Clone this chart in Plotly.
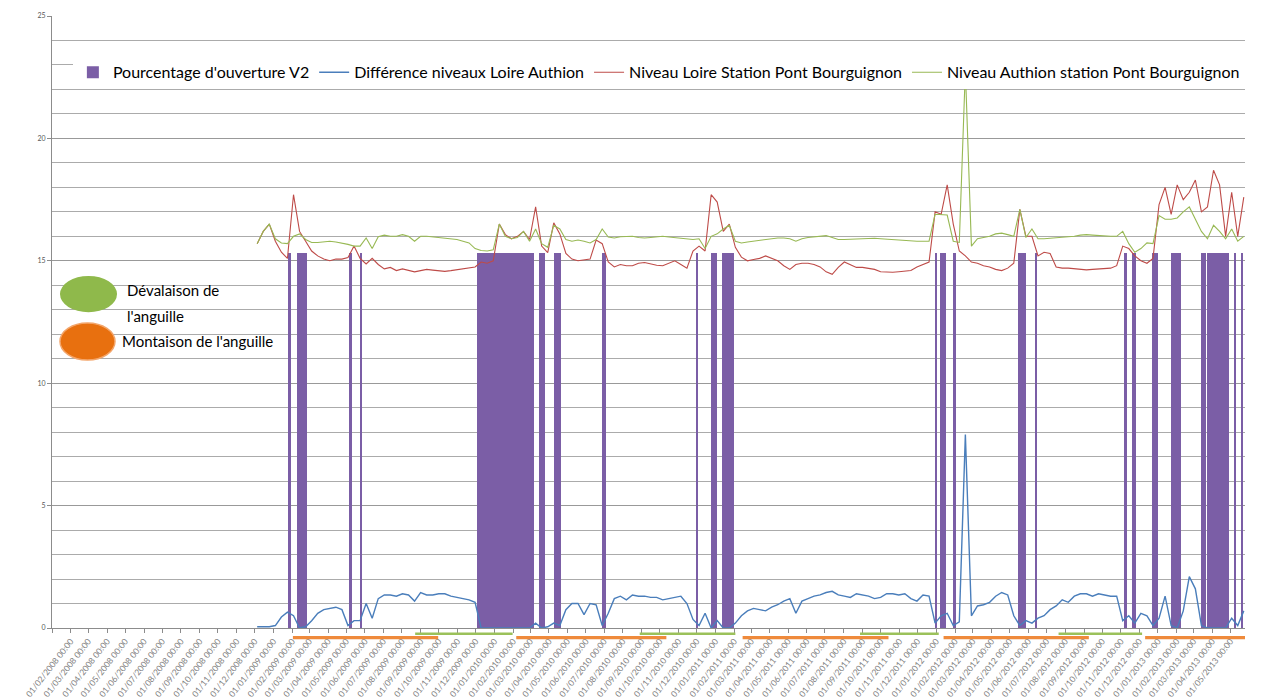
import plotly.graph_objects as go
import pandas as pd

# ---------------- data ----------------
# water-level series sampled every 10 days
line_dates = pd.date_range("2008-12-05", periods=164, freq="10D")

authion = [
    15.7, 16.2, 16.5, 15.9, 15.73, 15.7, 16.0, 16.1, 15.87, 15.75,
    15.75, 15.78, 15.8, 15.77, 15.73, 15.67, 15.6, 15.6, 15.93, 15.5,
    15.98, 16.05, 16.0, 16.0, 16.07, 16.0, 15.8, 16.0, 16.0, 15.98,
    15.95, 15.92, 15.9, 15.87, 15.8, 15.73, 15.5, 15.42, 15.4, 15.45,
    16.5, 16.0, 15.9, 15.95, 16.2, 15.8, 16.3, 15.7, 15.55, 16.45,
    16.3, 15.87, 15.8, 15.85, 15.8, 15.73, 15.87, 16.3, 15.97, 15.93,
    15.98, 16.0, 16.0, 15.95, 15.93, 15.95, 15.97, 16.0, 15.97, 15.95,
    15.93, 15.9, 15.87, 15.9, 15.5, 16.0, 16.1, 16.3, 16.45, 15.8,
    15.73, 15.77, 15.8, 15.85, 15.87, 15.9, 15.93, 15.93, 15.9, 15.8,
    15.9, 15.95, 15.97, 16.0, 16.03, 15.95, 15.87, 15.87, 15.88, 15.9,
    15.92, 15.93, 15.92, 15.9, 15.88, 15.87, 15.85, 15.83, 15.8, 15.8,
    15.8, 15.8, 16.9, 16.87, 16.87, 15.8, 15.75, 22.8, 15.6, 15.9,
    15.95, 16.0, 16.1, 16.13, 16.07, 16.0, 17.1, 15.95, 16.3, 15.9,
    15.9, 15.92, 15.93, 15.93, 15.97, 16.0, 16.05, 16.07, 16.05, 16.03,
    16.0, 16.0, 16.0, 16.2, 15.7, 15.35, 15.5, 15.73, 15.7, 16.85,
    16.7, 16.7, 16.75, 17.0, 17.2, 16.7, 16.2, 15.9, 16.45, 16.2,
    15.9, 16.3, 15.8, 16.0,
]

loire = [
    15.7, 16.2, 16.5, 15.8, 15.35, 15.1, 17.7, 16.2, 15.8, 15.4,
    15.2, 15.07, 15.0, 15.07, 15.07, 15.13, 15.6, 15.1, 14.87, 15.1,
    14.85, 14.67, 14.73, 14.6, 14.67, 14.6, 14.55, 14.6, 14.65, 14.62,
    14.6, 14.57, 14.6, 14.63, 14.67, 14.7, 14.75, 14.95, 14.9, 15.0,
    16.5, 16.07, 15.9, 16.0, 16.2, 15.87, 17.2, 15.6, 15.33, 16.55,
    16.1, 15.3, 15.07, 15.0, 15.03, 15.07, 15.85, 15.7, 14.95, 14.75,
    14.85, 14.8, 14.8, 14.9, 14.93, 14.87, 14.82, 14.8, 14.9, 15.0,
    14.85, 14.7, 15.4, 15.6, 15.4, 17.7, 17.4, 16.2, 16.5, 15.55,
    15.15, 15.0, 15.05, 15.1, 15.2, 15.1, 15.0, 14.8, 14.65, 14.85,
    14.9, 14.9, 14.85, 14.75, 14.55, 14.45, 14.73, 14.95, 14.85, 14.73,
    14.73, 14.7, 14.65, 14.55, 14.53, 14.53, 14.55, 14.57, 14.6, 14.75,
    14.85, 14.95, 17.0, 16.9, 18.1, 16.5, 15.4, 15.2, 14.95, 14.9,
    14.8, 14.75, 14.65, 14.6, 14.7, 14.9, 17.1, 16.0, 16.0, 15.2,
    15.35, 15.3, 14.75, 14.7, 14.7, 14.67, 14.65, 14.63, 14.65, 14.67,
    14.67, 14.7, 14.8, 15.6, 15.5, 15.2, 15.0, 14.9, 15.1, 17.3,
    18.0, 16.9, 18.1, 17.5, 17.8, 18.3, 17.0, 17.2, 18.7, 18.1,
    16.0, 17.8, 16.0, 17.6,
]

difference = [
    0.05, 0.05, 0.05, 0.1, 0.45, 0.65, 0.5, 0.0, 0.05, 0.3,
    0.6, 0.75, 0.8, 0.85, 0.75, 0.1, 0.3, 0.3, 1.0, 0.4,
    1.2, 1.35, 1.35, 1.3, 1.4, 1.35, 1.1, 1.45, 1.35, 1.35,
    1.4, 1.4, 1.3, 1.25, 1.2, 1.15, 1.05, 0.0, 0.0, 0.0,
    0.0, 0.0, 0.0, 0.0, 0.0, 0.0, 0.2, 0.0, 0.05, 0.2,
    0.1, 0.75, 1.0, 1.0, 0.55, 1.0, 0.95, 0.1, 0.6, 1.2,
    1.3, 1.15, 1.35, 1.3, 1.3, 1.25, 1.25, 1.15, 1.2, 1.25,
    1.3, 1.0, 0.35, 0.1, 0.6, 0.0, 0.3, 0.0, 0.0, 0.2,
    0.5, 0.7, 0.8, 0.75, 0.7, 0.85, 0.95, 1.1, 1.2, 0.6,
    1.1, 1.2, 1.3, 1.35, 1.45, 1.5, 1.35, 1.3, 1.25, 1.4,
    1.35, 1.3, 1.2, 1.25, 1.4, 1.4, 1.35, 1.4, 1.2, 1.1,
    1.35, 1.3, 0.2, 0.5, 0.6, 0.1, 0.25, 7.9, 0.5, 0.9,
    0.95, 1.05, 1.3, 1.45, 1.35, 0.5, 0.1, 0.3, 0.2, 0.4,
    0.5, 0.75, 0.9, 1.15, 1.05, 1.3, 1.4, 1.4, 1.3, 1.4,
    1.35, 1.3, 1.3, 0.3, 0.5, 0.2, 0.6, 0.5, 0.1, 0.4,
    1.3, 0.1, 0.0, 0.7, 2.1, 1.6, 0.1, 0.0, 0.0, 0.0,
    0.0, 0.4, 0.1, 0.7,
]

# gate opening periods (Pourcentage d'ouverture V2)
open_start = ["2009-01-25", "2009-02-09", "2009-05-05", "2009-05-24", "2009-12-03",
              "2010-03-15", "2010-04-09", "2010-06-28", "2010-12-01", "2010-12-25",
              "2011-01-12", "2011-12-30", "2012-01-07", "2012-01-28", "2012-05-15",
              "2012-06-12", "2012-11-06", "2012-11-20", "2012-12-23", "2013-01-22",
              "2013-03-13", "2013-03-24", "2013-05-06", "2013-05-18"]
open_end = ["2009-01-30", "2009-02-25", "2009-05-10", "2009-05-26", "2010-03-08",
            "2010-03-26", "2010-04-21", "2010-07-05", "2010-12-04", "2011-01-03",
            "2011-02-01", "2012-01-02", "2012-01-17", "2012-02-03", "2012-05-28",
            "2012-06-16", "2012-11-11", "2012-11-26", "2013-01-02", "2013-02-08",
            "2013-03-22", "2013-04-29", "2013-05-10", "2013-05-22"]
open_level = 15.3

# eel migration periods
devalaison_start = ["2009-08-23", "2010-08-29", "2011-08-28", "2012-07-21"]
devalaison_end = ["2010-01-31", "2011-02-03", "2012-01-05", "2012-12-06"]
montaison_start = ["2009-02-02", "2010-02-06", "2011-02-15", "2012-01-13", "2012-12-11"]
montaison_end = ["2009-09-30", "2010-10-12", "2011-10-14", "2012-09-09", "2013-05-25"]

# ---------------- figure ----------------
FONT = "Lato"
s = pd.to_datetime(open_start)
e = pd.to_datetime(open_end)
mids = s + (e - s) / 2
widths = [(b - a).total_seconds() * 1000 for a, b in zip(s, e)]

fig = go.Figure()
fig.add_trace(go.Bar(
    x=mids, y=[open_level] * len(mids), width=widths, base=0,
    marker=dict(color="#7B5EA6", line=dict(width=0)),
    name="Pourcentage d'ouverture V2",
))
fig.add_trace(go.Scatter(
    x=line_dates, y=difference, mode="lines",
    line=dict(color="#4A7EBB", width=1.4),
    name="Différence niveaux Loire Authion",
))
fig.add_trace(go.Scatter(
    x=line_dates, y=loire, mode="lines",
    line=dict(color="#BE4B48", width=1.1),
    name="Niveau Loire Station Pont Bourguignon",
))
fig.add_trace(go.Scatter(
    x=line_dates, y=authion, mode="lines",
    line=dict(color="#98B954", width=1.1),
    name="Niveau Authion station Pont Bourguignon",
))

shapes = []
for a, b in zip(devalaison_start, devalaison_end):
    shapes.append(dict(type="rect", xref="x", yref="paper", x0=a, x1=b,
                       y0=-0.0115, y1=-0.0072, fillcolor="#9BC15A",
                       line=dict(width=0), layer="above"))
for a, b in zip(montaison_start, montaison_end):
    shapes.append(dict(type="rect", xref="x", yref="paper", x0=a, x1=b,
                       y0=-0.0185, y1=-0.0130, fillcolor="#EF8A3B",
                       line=dict(width=0), layer="above"))
# legend ellipses for the eel periods
shapes.append(dict(type="circle", xref="paper", yref="y", x0=0.0067, x1=0.0545,
                   y0=12.9, y1=14.38, fillcolor="#8FB94B", line=dict(width=0)))
shapes.append(dict(type="circle", xref="paper", yref="y", x0=0.0067, x1=0.0528,
                   y0=10.95, y1=12.46, fillcolor="#E8700F",
                   line=dict(width=1.5, color="#F3A56A")))

annotations = [
    dict(text="Dévalaison de", xref="paper", yref="y", x=0.0612, y=13.81,
         xanchor="left", yanchor="middle", showarrow=False,
         font=dict(family=FONT, size=15, color="#000")),
    dict(text="l'anguille", xref="paper", yref="y", x=0.0612, y=12.75,
         xanchor="left", yanchor="middle", showarrow=False,
         font=dict(family=FONT, size=15, color="#000")),
    dict(text="Montaison de l'anguille", xref="paper", yref="y", x=0.057, y=11.72,
         xanchor="left", yanchor="middle", showarrow=False,
         font=dict(family=FONT, size=15, color="#000")),
]

# the page body adds an 8px offset, so the figure is 8px smaller and margins compensate
fig.update_layout(
    width=1277, height=690,
    margin=dict(l=44, r=40, t=8, b=70, autoexpand=False),
    paper_bgcolor="white", plot_bgcolor="white",
    font=dict(family=FONT, color="#000"),
    showlegend=True,
    legend=dict(orientation="h", xref="paper", yref="paper", x=0.0175, y=0.908,
                yanchor="middle", xanchor="left", bgcolor="white",
                font=dict(family=FONT, size=16, color="#000"),
                itemwidth=30, traceorder="normal"),
    shapes=shapes, annotations=annotations,
    bargap=0,
)
fig.update_xaxes(
    type="date", range=["2008-01-01", "2013-05-25"],
    tick0="2008-01-01", dtick="M1", tickformat="%d/%m/%Y %H:%M",
    tickangle=-52, tickfont=dict(family=FONT, size=8.5, color="#7F7F7F"),
    showgrid=False, showline=True, linecolor="#8C8C8C", linewidth=1,
    ticks="outside", ticklen=4, tickcolor="#8C8C8C", zeroline=False,
    automargin=False,
)
fig.update_yaxes(
    range=[0, 25], dtick=5, tick0=0,
    tickfont=dict(family=FONT, size=7, color="#595959"),
    showgrid=True, gridcolor="#999999", gridwidth=1,
    minor=dict(dtick=1, showgrid=True, gridcolor="#ABABAB", gridwidth=1),
    showline=True, linecolor="#8C8C8C", linewidth=1,
    ticks="outside", ticklen=4, tickcolor="#8C8C8C", zeroline=False,
    automargin=False,
)

fig.write_html("out.html")
